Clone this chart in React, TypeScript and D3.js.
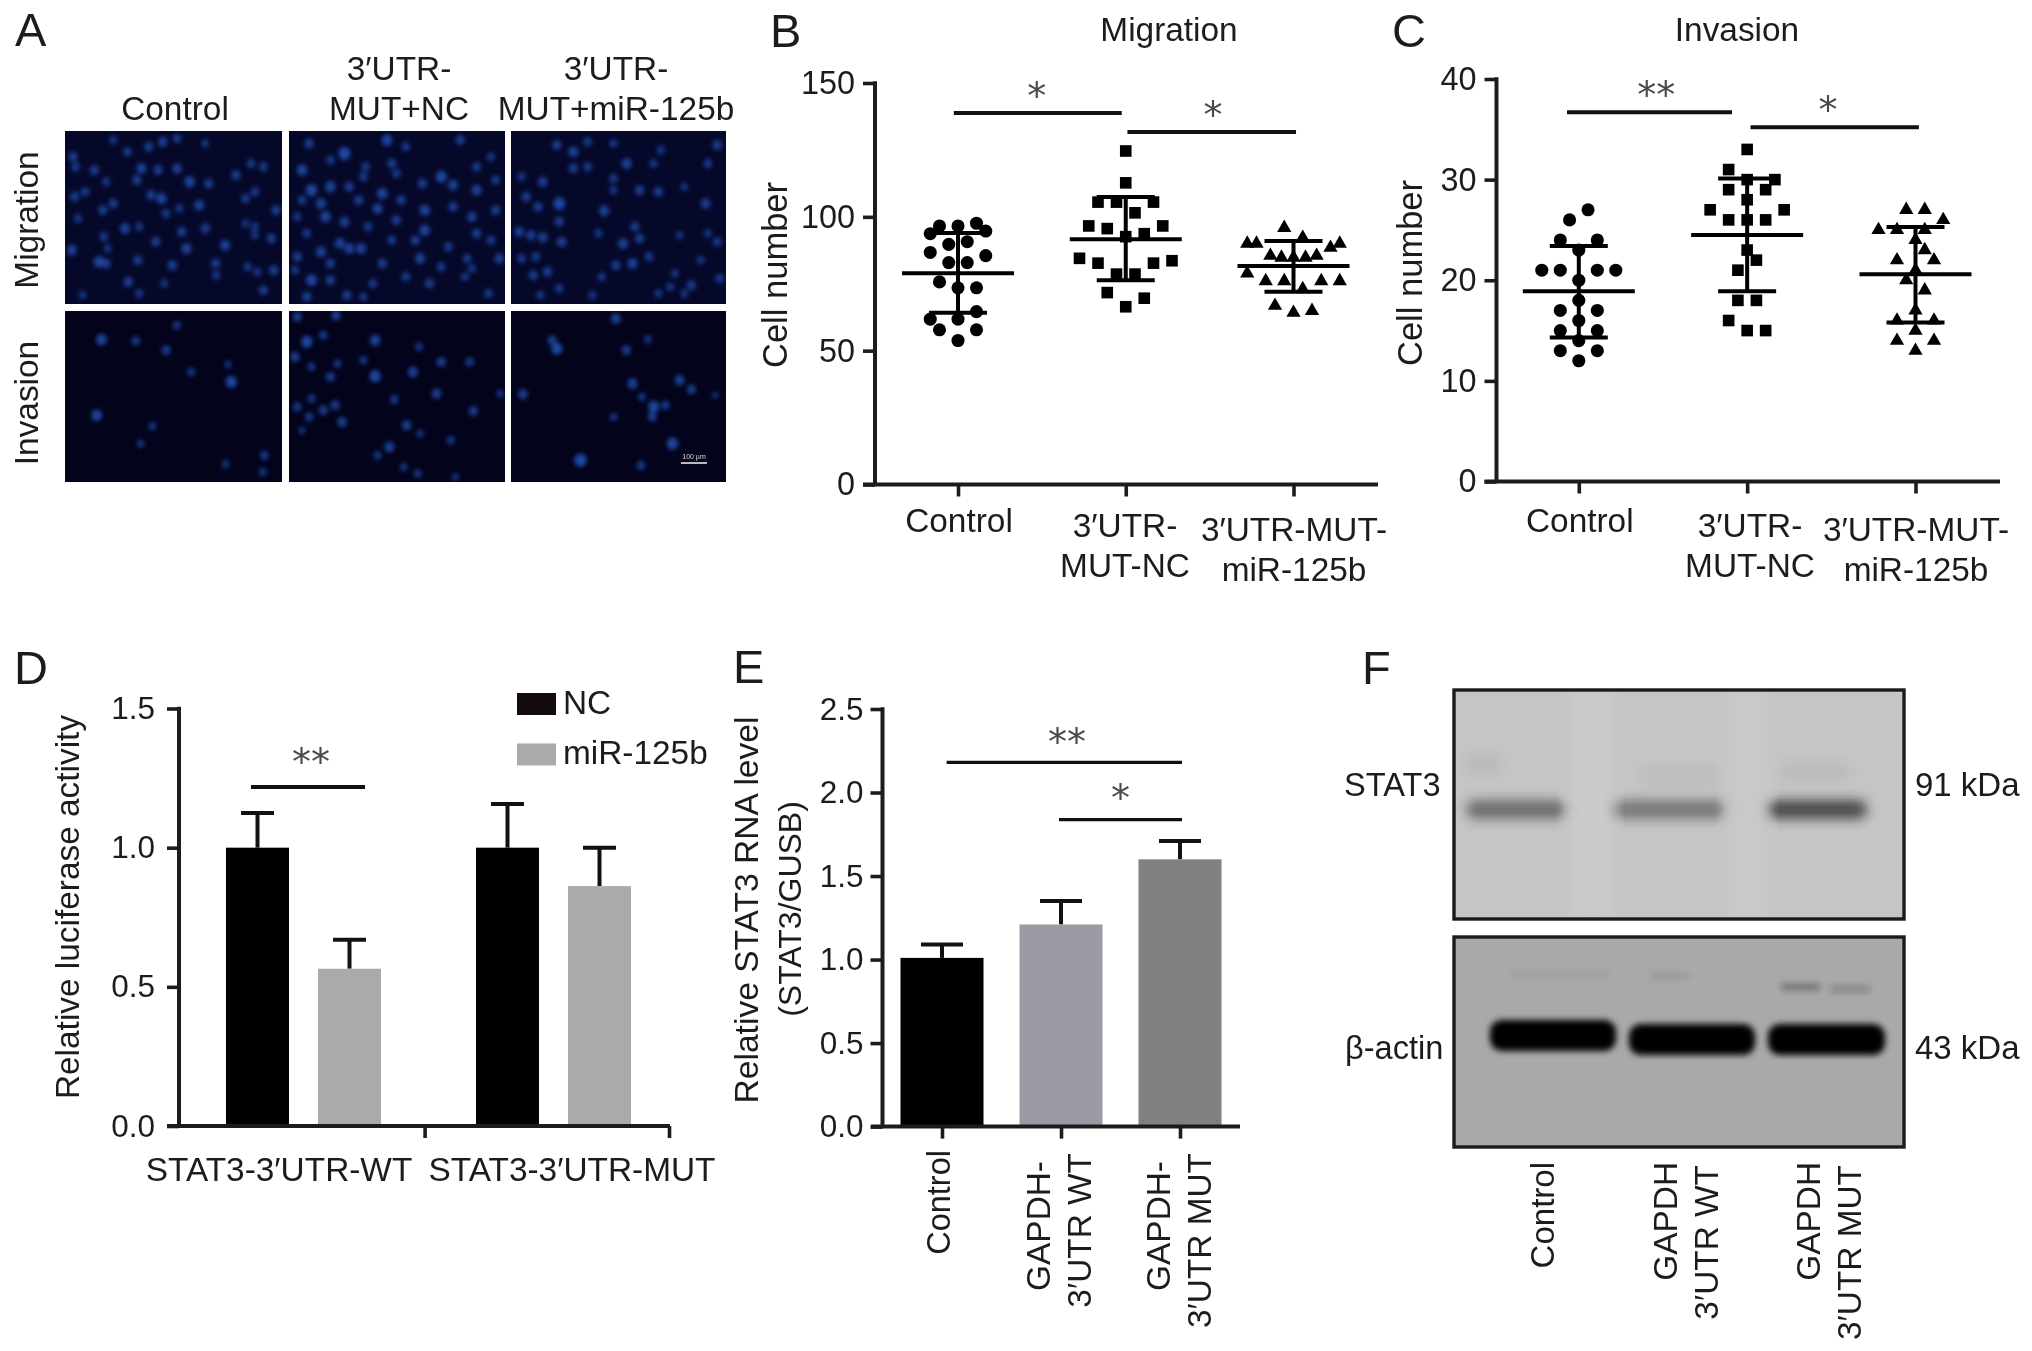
import React, { useEffect, useRef } from "react"
import * as d3 from "d3"

const WIDTH = 2032
const HEIGHT = 1351
const FONT = "'Liberation Sans', Arial, sans-serif"
const INK = "#1c1c1c"
const TEXT_SIZE = 33.4
const LINE_W = 4

// ── Panel B data (Migration) ──────────────────────────────────────────────────

const scatterCategories = ["Control", "3′UTR-MUT-NC", "3′UTR-MUT-miR-125b"]

const migControlValues = [96.6, 96.6, 97.6, 93.7, 94.7, 89.7, 90.7, 86.7, 85.5, 82.9, 82.9, 75.7, 73.5, 73.5, 61.8, 64.6, 61.8, 57.8, 57.8, 53.8]
const migControlOffsets = [-2, 0, 2, -3, 3, -1, 1, -3, 3, -1, 1, -2, 0, 2, -3, 2, 0, -2, 2, 0]
const migNcValues = [124.6, 112.7, 105.5, 105.5, 105.5, 101.5, 96.6, 95.6, 96.6, 92.6, 93.7, 84.5, 82.7, 82.7, 83.6, 78.6, 78.6, 71.7, 69.6, 66.4]
const migNcOffsets = [0, 0, -3, -1, 3, 1, -4, -2, 4, 0, 2, -5, -3, 3, 5, -1, 1, -2, 2, 0]
const migMirValues = [95.9, 90, 90, 92.2, 88.5, 90, 85.5, 84.8, 84.8, 84.8, 85.5, 78.9, 76, 76, 76, 76, 73, 66.8, 64.2, 64.9]
const migMirOffsets = [-1, -5, -4, 1, 4, 5, -2.5, -1.3, 0, 1.3, 2.5, -5, -3, -1, 3, 5, 1, -2, 0, 2]
const migMeans = [78.9, 91.6, 81.6]
const migSdLow = [64.2, 76.3, 72]
const migSdHigh = [94, 107.4, 91]
const migTicks = [0, 50, 100, 150]
const migSig = [
  { from: -0.025, to: 0.976, level: 138.8, label: "*", at: 0.47 },
  { from: 1.01, to: 2.015, level: 131.7, label: "*", at: 1.52 },
]

// ── Panel C data (Invasion) ───────────────────────────────────────────────────

const invControlValues = [27, 26, 24, 24, 23, 21, 21, 21, 21, 20, 18, 17, 17, 16, 15, 15, 14, 13, 13, 12]
const invControlOffsets = [1, -1, -2, 2, 0, -4, -2, 2, 4, 0, 0, -2, 2, 0, -2, 2, 0, -2, 2, 0]
const invNcValues = [33, 31, 30, 30, 29, 29, 28, 27, 27, 26, 26, 26, 23, 22, 21, 18, 18, 16, 15, 15]
const invNcOffsets = [0, -2, 0, 3, -2, 2, 0, -4, 4, -2, 0, 2, 0, 1, -1, -1, 1, -2, 0, 2]
const invMirValues = [27, 27, 26, 25, 25, 25, 24, 23, 22, 22, 21, 20, 19, 17, 16, 16, 15, 14, 14, 13]
const invMirOffsets = [-1, 1, 3, -4, -2, 1, 0, 1, -2, 2, 0, -1, 1, 0, -2, 2, 0, -2, 2, 0]
const invMeans = [18.9, 24.5, 20.6]
const invSdLow = [14.3, 18.9, 15.8]
const invSdHigh = [23.4, 30.1, 25.3]
const invTicks = [0, 10, 20, 30, 40]
const invSig = [
  { from: -0.07, to: 0.91, level: 36.7, label: "**", at: 0.46 },
  { from: 1.02, to: 2.02, level: 35.2, label: "*", at: 1.48 },
]

// ── Panel D data ──────────────────────────────────────────────────────────────

const lucGroups = ["STAT3-3′UTR-WT", "STAT3-3′UTR-MUT"]
const lucSeries = ["NC", "miR-125b"]
const lucNc = [1.0, 1.0]
const lucNcErr = [1.125, 1.157]
const lucMir = [0.565, 0.862]
const lucMirErr = [0.669, 1.0]
const lucTicks = [0, 0.5, 1, 1.5]

// ── Panel E data ──────────────────────────────────────────────────────────────

const rnaCategories = ["Control", "GAPDH-3′UTR WT", "GAPDH-3′UTR MUT"]
const rnaValues = [1.01, 1.21, 1.6]
const rnaErr = [1.09, 1.35, 1.71]
const rnaColors = ["#000000", "#9b9ba3", "#808080"]
const rnaTicks = [0, 0.5, 1, 1.5, 2, 2.5]

const cellsMigControl = [[155,470,1],[158,590,1],[152,750,1.2],[165,655,.8],[200,510,1],[225,545,.8],[218,630,1],[240,610,1],[265,685,1.2],[295,680,.8],[220,710,.9],[228,745,.7],[210,785,1.4],[225,790,1],[272,845,1.1],[295,880,.8],[270,455,.9],[240,420,.8],[315,440,1],[345,425,1.1],[375,415,.9],[435,430,.7],[300,505,1.2],[335,510,1],[375,505,1.1],[290,540,1],[402,545,1.3],[442,550,1],[320,585,1],[342,595,1.3],[352,640,.9],[380,625,.8],[422,615,1.2],[385,695,1],[330,725,1],[395,745,1.2],[365,795,1.1],[292,780,1],[477,735,1.2],[457,790,1],[458,825,.8],[348,850,.7],[532,490,.9],[558,500,.9],[500,525,1],[520,595,.9],[540,575,.9],[585,630,1],[520,670,.7],[540,680,.8],[575,715,1],[540,705,.7],[525,800,.8],[545,815,.8],[580,810,1],[558,870,1],[435,685,1],[175,885,.7],[160,500,.9],[180,575,.9]]
const cellsMigNc = [[655,430,1],[730,460,1.7],[820,420,1.4],[860,440,.9],[975,420,1],[640,510,1.3],[700,480,.9],[775,500,.9],[830,490,1],[935,530,1.5],[960,555,1.2],[1010,500,.9],[1040,470,.8],[660,570,1.5],[700,560,1.3],[740,560,1],[810,580,1.3],[895,550,1],[1010,570,1.2],[640,600,.9],[680,610,1.2],[760,600,1],[800,625,1.2],[850,600,1],[900,630,1.3],[960,620,1],[1050,540,.9],[630,650,.8],[690,650,1.3],[730,665,1.1],[780,680,.9],[840,660,1],[900,690,1.3],[1000,650,1.1],[1050,630,1],[650,700,.9],[720,730,1.2],[765,745,1.2],[830,720,.9],[880,720,1],[950,740,.9],[1010,700,1],[1040,720,.9],[630,770,1],[680,755,1.2],[740,745,1.2],[810,790,1],[890,775,1.2],[990,775,.9],[1058,775,1.1],[660,840,1.4],[700,840,1],[625,810,.8],[735,885,1],[790,850,.9],[860,830,.9],[910,850,1],[985,830,.8],[1035,880,.9],[1000,805,.8],[650,890,1],[770,890,.8],[700,790,1],[935,800,.9],[840,520,.9],[770,530,.9]]
const cellsMigMir = [[1180,435,1],[1215,455,1.2],[1245,425,.9],[1300,430,.8],[1400,450,.8],[1520,435,1],[1215,505,1],[1245,500,.9],[1328,490,1.2],[1385,490,.8],[1500,490,.9],[1150,545,1.1],[1105,530,.8],[1300,535,.9],[1355,570,1.1],[1395,575,1],[1450,560,.7],[1115,590,1],[1185,610,1.6],[1140,620,1],[1280,632,1.2],[1495,610,1.1],[1300,570,.8],[1185,665,1],[1100,695,1.1],[1125,705,1.1],[1150,712,1.1],[1190,725,1.1],[1268,700,.8],[1345,680,1],[1320,730,1.2],[1355,715,1],[1440,705,.7],[1520,725,.9],[1105,775,.9],[1135,770,.9],[1305,795,1],[1340,790,1.2],[1375,770,.9],[1485,780,.8],[1130,825,1],[1160,815,1],[1275,830,.8],[1430,820,.7],[1465,855,1],[1525,835,.9],[1145,885,.8],[1185,865,.9],[1255,885,.8],[1395,880,.7],[1420,860,.8],[1450,880,.7],[1500,700,.7]]
const cellsInvControl = [[215,1018,1.4],[288,1022,.9],[375,975,.8],[352,1050,1],[405,1115,.8],[483,1093,.6],[490,1145,1.5],[205,1245,1.4],[323,1278,.7],[298,1330,.7],[478,1392,.7],[560,1365,.9],[557,1415,.7]]
const cellsInvNc = [[630,950,1],[712,945,1.1],[650,1025,1.5],[685,1005,.9],[625,1070,1.1],[795,1020,1.3],[888,1040,.8],[660,1100,.8],[715,1090,.8],[770,1080,.8],[935,1085,1],[995,1085,.9],[700,1130,1],[795,1128,1.5],[875,1115,1.2],[1060,1180,.7],[925,1180,1.1],[660,1195,.8],[630,1220,.9],[710,1215,1],[685,1230,1],[835,1198,.9],[655,1250,.9],[725,1265,1.1],[1003,1232,1],[862,1275,1.1],[890,1300,.7],[955,1320,.8],[825,1340,1.2],[800,1365,.8],[885,1420,.8],[855,1400,.7],[640,1290,.6],[965,1430,.6]]
const cellsInvMir = [[1305,955,1.2],[1180,1045,1.5],[1170,1020,1],[1373,1018,.7],[1327,1050,1],[1340,1150,1.2],[1440,1140,1.2],[1465,1168,1],[1108,1182,1.1],[1360,1190,.7],[1385,1220,1.5],[1410,1215,.9],[1382,1250,1],[1300,1250,.7],[1425,1330,1.5],[1230,1380,1.8],[1358,1395,.9],[1515,1185,.5]]
const microRows = [
  [cellsMigControl, cellsMigNc, cellsMigMir],
  [cellsInvControl, cellsInvNc, cellsInvMir],
]

// ── Panel F: band intensity ────────────────────────────────

const stat3Bands = [[1466, 1567, 0.58], [1611, 1726, 0.5], [1766, 1867, 0.8]]
const actinBands = [[1490, 1616, 1], [1629, 1755, 1], [1768, 1885, 1]]
const actinFaint = [[1510, 1610, 0.07, 974], [1650, 1690, 0.1, 976], [1781, 1820, 0.45, 987], [1830, 1870, 0.28, 989]]
const stat3Faint = [[1466, 1500, 0.06, 764], [1640, 1720, 0.04, 776], [1780, 1850, 0.05, 772]]

// ── Helpers ───────────────────────────────────────────────────────────────────

function AxisG({ scale, kind, values, at, format, size = TEXT_SIZE - 1, padding = 8 }: any) {
  const ref = useRef<SVGGElement>(null)
  useEffect(() => {
    const axis = (kind === "left" ? d3.axisLeft(scale) : d3.axisBottom(scale))
      .tickValues(values)
      .tickSizeInner(12)
      .tickSizeOuter(0)
      .tickPadding(padding)
    if (format) axis.tickFormat(format)
    const g = d3.select(ref.current)
    g.call(axis as any)
    g.select(".domain").remove()
    g.selectAll("line").attr("stroke", INK).attr("stroke-width", LINE_W - 0.4)
    g.selectAll("text")
      .attr("fill", INK)
      .style("font-family", FONT)
      .style("font-size", `${size}px`)
    if (kind !== "left") g.selectAll("text").remove()
  }, [scale, kind, values, format, size, padding])
  return <g ref={ref} transform={at} />
}

function Label({ x, y, children, anchor = "middle", size = TEXT_SIZE, rotate = false }: any) {
  return (
    <text
      x={rotate ? 0 : x}
      y={rotate ? 0 : y}
      transform={rotate ? `translate(${x},${y}) rotate(-90)` : undefined}
      textAnchor={anchor}
      fontSize={size}
      fontFamily={FONT}
      fill={INK}
    >
      {children}
    </text>
  )
}

function Stars({ x, y, label, size = 38 }: any) {
  return (
    <text
      x={x}
      y={y + size * 0.42}
      textAnchor="middle"
      fontSize={size}
      fontFamily="'DejaVu Sans', sans-serif"
      fill="#4a4a4a"
    >
      {label}
    </text>
  )
}

// ── Panels ────────────────────────────────────────────────────────────────────

function ScatterPanel({ title, titleX, yMax, ticks, groups, means, low, high, sig, geo }: any) {
  const y = d3.scaleLinear().domain([0, yMax]).range([geo.y0, geo.y1])
  const xi = d3.scaleLinear().domain([0, 2]).range([geo.x0, geo.x2])
  const xp = d3.scalePoint().domain(scatterCategories).range([geo.x0, geo.x2])
  const symbols = [d3.symbolCircle, d3.symbolSquare, d3.symbolTriangle]
  const sizes = [135, 135, 88]
  return (
    <g>
      <Label x={titleX} y={41}>{title}</Label>
      <Label x={geo.labelX} y={geo.labelY} rotate size={34.5}>Cell number</Label>
      <line x1={geo.axisX} x2={geo.axisX} y1={geo.y1 - 1.7} y2={geo.y0} stroke={INK} strokeWidth={LINE_W} />
      <line x1={geo.axisX - 12} x2={geo.xEnd} y1={geo.y0} y2={geo.y0} stroke={INK} strokeWidth={LINE_W} />
      <AxisG scale={y} kind="left" values={ticks} at={`translate(${geo.axisX},0)`} />
      <AxisG scale={xp} kind="bottom" values={scatterCategories} at={`translate(0,${geo.y0})`} />

      {groups.map((g: any, i: number) => (
        <g key={i}>
          {g.values.map((v: number, j: number) => (
            <path
              key={j}
              d={d3.symbol().type(symbols[i]).size(sizes[i])() as string}
              transform={`translate(${xi(i) + g.offsets[j] * 9.25},${y(v)})`}
              fill="#000"
            />
          ))}
          <line x1={xi(i) - 56} x2={xi(i) + 56} y1={y(means[i])} y2={y(means[i])} stroke="#000" strokeWidth={LINE_W} />
          <line x1={xi(i)} x2={xi(i)} y1={y(low[i])} y2={y(high[i])} stroke="#000" strokeWidth={LINE_W} />
          <line x1={xi(i) - 29} x2={xi(i) + 29} y1={y(low[i])} y2={y(low[i])} stroke="#000" strokeWidth={LINE_W} />
          <line x1={xi(i) - 29} x2={xi(i) + 29} y1={y(high[i])} y2={y(high[i])} stroke="#000" strokeWidth={LINE_W} />
        </g>
      ))}

      {sig.map((s: any) => (
        <g key={s.from}>
          <line x1={xi(s.from)} x2={xi(s.to)} y1={y(s.level)} y2={y(s.level)} stroke="#111" strokeWidth={LINE_W} />
          <Stars x={xi(s.at)} y={y(s.level) - 20} label={s.label} />
        </g>
      ))}

      <Label x={geo.x0 + 1} y={532}>Control</Label>
      <Label x={geo.x1Label} y={537}>3′UTR-</Label>
      <Label x={geo.x1Label} y={577}>MUT-NC</Label>
      <Label x={geo.x2Label} y={541}>3′UTR-MUT-</Label>
      <Label x={geo.x2Label} y={581}>miR-125b</Label>
    </g>
  )
}

function LuciferasePanel() {
  const y = d3.scaleLinear().domain([0, 1.5]).range([1126, 708.5])
  const group = d3.scalePoint().domain(lucGroups).range([303.5, 553.5])
  const sub = d3.scalePoint().domain(lucSeries).range([-46, 46])
  const color = d3.scaleOrdinal<string>().domain(lucSeries).range(["#000000", "#aaaaaa"])
  const barW = 63
  const rows = lucGroups.flatMap((g, i) => [
    { g, s: lucSeries[0], v: lucNc[i], e: lucNcErr[i] },
    { g, s: lucSeries[1], v: lucMir[i], e: lucMirErr[i] },
  ])
  const tickScale = d3.scalePoint().domain(["a", "b"]).range([424.6, 669])
  return (
    <g>
      {rows.map(d => {
        const cx = (group(d.g) as number) + (sub(d.s) as number)
        return (
          <g key={d.g + d.s}>
            <line x1={cx} x2={cx} y1={y(d.e)} y2={y(d.v)} stroke="#111" strokeWidth={LINE_W} />
            <line x1={cx - 16.5} x2={cx + 16.5} y1={y(d.e)} y2={y(d.e)} stroke="#111" strokeWidth={LINE_W} />
            <rect x={cx - barW / 2} y={y(d.v)} width={barW} height={y(0) - y(d.v)} fill={color(d.s)} />
          </g>
        )
      })}
      <line x1={179} x2={179} y1={706.8} y2={1126} stroke={INK} strokeWidth={LINE_W} />
      <line x1={167} x2={670} y1={1126} y2={1126} stroke={INK} strokeWidth={LINE_W} />
      <AxisG scale={y} kind="left" values={lucTicks} at="translate(179,0)" format={d3.format(".1f")} padding={12} size={31.5} />
      <AxisG scale={tickScale} kind="bottom" values={["a", "b"]} at="translate(0,1126)" />
      <Label x={79} y={907} rotate size={33.4}>Relative luciferase activity</Label>
      <Label x={279} y={1181}>{lucGroups[0]}</Label>
      <Label x={572} y={1181}>{lucGroups[1]}</Label>
      <line x1={251} x2={365} y1={787} y2={787} stroke="#111" strokeWidth={LINE_W} />
      <Stars x={311} y={759} label="**" />
      {lucSeries.map((s, i) => (
        <g key={s}>
          <rect x={517} y={693 + i * 50.5} width={39} height={22} fill={i === 0 ? "#120a0c" : "#aaaaaa"} />
          <Label x={563} y={714 + i * 50} anchor="start">{s}</Label>
        </g>
      ))}
    </g>
  )
}

function RnaPanel() {
  const y = d3.scaleLinear().domain([0, 2.5]).range([1126.6, 709])
  const x = d3.scalePoint().domain(rnaCategories).range([942, 1180])
  const barW = 83
  return (
    <g>
      {rnaCategories.map((c, i) => {
        const cx = x(c) as number
        return (
          <g key={c}>
            <line x1={cx} x2={cx} y1={y(rnaErr[i])} y2={y(rnaValues[i])} stroke="#111" strokeWidth={LINE_W} />
            <line x1={cx - 21} x2={cx + 21} y1={y(rnaErr[i])} y2={y(rnaErr[i])} stroke="#111" strokeWidth={LINE_W} />
            <rect x={cx - barW / 2} y={y(rnaValues[i])} width={barW} height={y(0) - y(rnaValues[i])} fill={rnaColors[i]} />
          </g>
        )
      })}
      <line x1={882.5} x2={882.5} y1={707.3} y2={1126.6} stroke={INK} strokeWidth={LINE_W} />
      <line x1={871} x2={1240} y1={1126.6} y2={1126.6} stroke={INK} strokeWidth={LINE_W} />
      <AxisG scale={y} kind="left" values={rnaTicks} at="translate(882.5,0)" format={d3.format(".1f")} padding={7} size={31.5} />
      <AxisG scale={x} kind="bottom" values={rnaCategories} at="translate(0,1126.6)" />
      <Label x={758} y={910} rotate size={33.6}>Relative STAT3 RNA level</Label>
      <Label x={801} y={909} rotate size={32}>(STAT3/GUSB)</Label>
      <line x1={946.6} x2={1182} y1={762.4} y2={762.4} stroke="#111" strokeWidth={3.4} />
      <line x1={1059} x2={1182} y1={819.6} y2={819.6} stroke="#111" strokeWidth={3.4} />
      <Stars x={1067} y={739} label="**" />
      <Stars x={1120.5} y={795} label="*" />
      <Label x={950} y={1150} rotate anchor="end" size={32.5}>Control</Label>
      <Label x={1050} y={1161} rotate anchor="end">GAPDH-</Label>
      <Label x={1091} y={1153} rotate anchor="end">3′UTR WT</Label>
      <Label x={1170} y={1161} rotate anchor="end">GAPDH-</Label>
      <Label x={1211} y={1153} rotate anchor="end">3′UTR MUT</Label>
    </g>
  )
}

function MicroPanel() {
  // spot coordinates are stored in a crop frame over the top-left region of the figure
  const sx = d3.scaleLinear().domain([0, 1568]).range([0, 740])
  const sy = d3.scaleLinear().domain([0, 1568]).range([0, 523])
  const colEdges = [[65, 282], [289, 505], [511, 726]]
  const rowEdges = [[131, 304], [311, 482]]
  return (
    <g>
      <Label x={175} y={120}>Control</Label>
      <Label x={399} y={80}>3′UTR-</Label>
      <Label x={399} y={120}>MUT+NC</Label>
      <Label x={616} y={80}>3′UTR-</Label>
      <Label x={616} y={120}>MUT+miR-125b</Label>
      <Label x={38} y={220} rotate>Migration</Label>
      <Label x={38} y={403} rotate>Invasion</Label>
      {rowEdges.map(([y0, y1], r) =>
        colEdges.map(([x0, x1], c) => (
          <g key={`${r}-${c}`}>
            <clipPath id={`micro-${r}-${c}`}>
              <rect x={x0} y={y0} width={x1 - x0} height={y1 - y0} />
            </clipPath>
            <rect x={x0} y={y0} width={x1 - x0} height={y1 - y0} fill={r === 0 ? "#06082a" : "#03031c"} />
            <g clipPath={`url(#micro-${r}-${c})`}>
              <g filter="url(#cellBlur)">
                {microRows[r][c].map(([px, py, w], i) => (
                  <ellipse
                    key={i}
                    cx={sx(px)}
                    cy={sy(py)}
                    rx={4.6 * Math.sqrt(w)}
                    ry={5 * Math.sqrt(w)}
                    fill="#1f4cab"
                    opacity={Math.min(0.95, 0.45 + w * 0.3)}
                  />
                ))}
              </g>
            </g>
          </g>
        )),
      )}
      <line x1={681} x2={707} y1={463} y2={463} stroke="#e8e8e8" strokeWidth={1.6} />
      <text x={694} y={459} textAnchor="middle" fontSize={7} fontFamily={FONT} fill="#d8d8d8">100 µm</text>
    </g>
  )
}

function BlotPanel() {
  return (
    <g>
      <clipPath id="blotA"><rect x={1454} y={690} width={450} height={229} /></clipPath>
      <clipPath id="blotB"><rect x={1454} y={937} width={450} height={210} /></clipPath>
      <rect x={1454} y={690} width={450} height={229} fill="#c5c5c5" />
      <rect x={1454} y={937} width={450} height={210} fill="#a9a9a9" />
      <g clipPath="url(#blotA)">
        <g filter="url(#bandBlur)">
          <rect x={1570} y={690} width={42} height={229} fill="#cbcbcb" />
          <rect x={1730} y={690} width={36} height={229} fill="#c9c9c9" />
          {stat3Faint.map(([a, b, k, cy]) => (
            <rect key={a} x={a} y={cy - 7} width={b - a} height={14} rx={6} fill={`rgba(70,70,70,${k * 2})`} />
          ))}
          {stat3Bands.map(([a, b, k]) => (
            <rect key={a} x={a} y={800} width={b - a} height={19} rx={9} fill={`rgba(45,45,45,${k})`} />
          ))}
        </g>
      </g>
      <g clipPath="url(#blotB)">
        <g filter="url(#bandBlurTight)">
          {actinFaint.map(([a, b, k, cy]) => (
            <rect key={a} x={a} y={cy - 3} width={b - a} height={6} rx={3} fill={`rgba(30,30,30,${k})`} />
          ))}
          {actinBands.map(([a, b, k], i) => (
            <rect key={a} x={a} y={1022 + (i === 0 ? -2 : 2)} width={b - a} height={31} rx={12} fill={`rgba(5,5,5,${k})`} />
          ))}
        </g>
      </g>
      <rect x={1454} y={690} width={450} height={229} fill="none" stroke="#1a1a1a" strokeWidth={3.4} />
      <rect x={1454} y={937} width={450} height={210} fill="none" stroke="#1a1a1a" strokeWidth={3.4} />
      <Label x={1344} y={796} anchor="start" size={32.6}>STAT3</Label>
      <Label x={1915} y={796} anchor="start" size={33}>91 kDa</Label>
      <Label x={1345} y={1059} anchor="start" size={32.6}>β-actin</Label>
      <Label x={1915} y={1059} anchor="start" size={33}>43 kDa</Label>
      <Label x={1554} y={1162} rotate anchor="end" size={33}>Control</Label>
      <Label x={1677} y={1162} rotate anchor="end">GAPDH</Label>
      <Label x={1718} y={1165} rotate anchor="end">3′UTR WT</Label>
      <Label x={1820} y={1162} rotate anchor="end">GAPDH</Label>
      <Label x={1861} y={1165} rotate anchor="end">3′UTR MUT</Label>
    </g>
  )
}

// ── Main component ────────────────────────────────────────────────────────────

export default function App() {
  return (
    <svg
      width={WIDTH}
      height={HEIGHT}
      style={{ position: "absolute", left: 0, top: 0, background: "#fff", filter: "blur(0.5px)" }}
    >
      <defs>
        <filter id="cellBlur" x="-5%" y="-5%" width="110%" height="110%"><feGaussianBlur stdDeviation="2" /></filter>
        <filter id="bandBlur" x="-5%" y="-5%" width="110%" height="110%"><feGaussianBlur stdDeviation="6" /></filter>
        <filter id="bandBlurTight" x="-5%" y="-5%" width="110%" height="110%"><feGaussianBlur stdDeviation="3.4" /></filter>
      </defs>

      {[["A", 15, 46], ["B", 770, 47], ["C", 1392, 47], ["D", 14, 684], ["E", 733, 683], ["F", 1362, 684]].map(([t, x, y]) => (
        <Label key={t} x={x} y={y} anchor="start" size={47}>{t}</Label>
      ))}

      <MicroPanel />

      <ScatterPanel
        title="Migration"
        titleX={1169}
        yMax={150}
        ticks={migTicks}
        means={migMeans}
        low={migSdLow}
        high={migSdHigh}
        sig={migSig}
        groups={[
          { values: migControlValues, offsets: migControlOffsets },
          { values: migNcValues, offsets: migNcOffsets },
          { values: migMirValues, offsets: migMirOffsets },
        ]}
        geo={{ axisX: 875, y0: 484.5, y1: 83, x0: 958, x2: 1293.5, xEnd: 1378, labelX: 787, labelY: 275, x1Label: 1125, x2Label: 1294 }}
      />
      <ScatterPanel
        title="Invasion"
        titleX={1737}
        yMax={40}
        ticks={invTicks}
        means={invMeans}
        low={invSdLow}
        high={invSdHigh}
        sig={invSig}
        groups={[
          { values: invControlValues, offsets: invControlOffsets },
          { values: invNcValues, offsets: invNcOffsets },
          { values: invMirValues, offsets: invMirOffsets },
        ]}
        geo={{ axisX: 1496.5, y0: 481.5, y1: 79, x0: 1578.8, x2: 1915.5, xEnd: 2000, labelX: 1422, labelY: 273, x1Label: 1750, x2Label: 1916 }}
      />

      <LuciferasePanel />
      <RnaPanel />
      <BlotPanel />
    </svg>
  )
}
